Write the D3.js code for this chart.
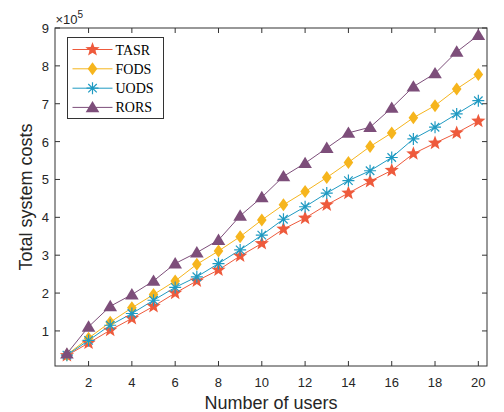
<!DOCTYPE html>
<html>
<head>
<meta charset="utf-8">
<script src="https://cdn.jsdelivr.net/npm/d3@7"></script>
<style>
  body { margin: 0; background: #fff; }
  svg { display: block; }
</style>
</head>
<body>
<div id="chart"></div>
<script>
// dati (unità: 1e5)
const users = [1, 2, 3, 4, 5, 6, 7, 8, 9, 10, 11, 12, 13, 14, 15, 16, 17, 18, 19, 20];
const tasr = [0.35, 0.68, 1.02, 1.33, 1.65, 2.00, 2.32, 2.61, 2.98, 3.31, 3.69, 3.98, 4.33, 4.64, 4.95, 5.24, 5.68, 5.96, 6.23, 6.54];
const fods = [0.37, 0.81, 1.23, 1.61, 1.96, 2.32, 2.76, 3.11, 3.49, 3.93, 4.33, 4.68, 5.05, 5.45, 5.87, 6.23, 6.63, 6.95, 7.39, 7.77];
const uods = [0.36, 0.75, 1.15, 1.46, 1.81, 2.15, 2.43, 2.78, 3.14, 3.53, 3.95, 4.28, 4.64, 4.97, 5.23, 5.58, 6.07, 6.38, 6.73, 7.08];
const rors = [0.40, 1.11, 1.65, 1.96, 2.32, 2.78, 3.07, 3.40, 4.04, 4.53, 5.08, 5.43, 5.83, 6.23, 6.38, 6.89, 7.45, 7.80, 8.37, 8.81];
const seriesNames = ["TASR", "FODS", "UODS", "RORS"];
const xTicks = [2, 4, 6, 8, 10, 12, 14, 16, 18, 20];
const yTicks = [1, 2, 3, 4, 5, 6, 7, 8, 9];

const colors = { TASR: "#ee5a3c", FODS: "#f6b51d", UODS: "#1f9ac2", RORS: "#7d4e7a" };
const seriesValues = { TASR: tasr, FODS: fods, UODS: uods, RORS: rors };

const width = 504, height = 412;
const margin = { top: 28, right: 17, bottom: 46, left: 55 };

const svg = d3.select("#chart").append("svg")
  .attr("width", width)
  .attr("height", height);

const x = d3.scaleLinear().domain([0.45, 20.4]).range([margin.left, width - margin.right]);
const y = d3.scaleLinear().domain([0.074, 9]).range([height - margin.bottom, margin.top]);

const axisColor = "#333";
const tickFont = "Liberation Sans, Arial, sans-serif";

// Simboli dei marker
function starPath(r) {
  const pts = [];
  for (let i = 0; i < 10; i++) {
    const a = -Math.PI / 2 + i * Math.PI / 5;
    const rr = i % 2 === 0 ? r : r * 0.42;
    pts.push([Math.cos(a) * rr, Math.sin(a) * rr]);
  }
  return "M" + pts.map(p => p.join(",")).join("L") + "Z";
}
function diamondPath(w, h) {
  return `M0,${-h}L${w},0L0,${h}L${-w},0Z`;
}
function trianglePath(r) {
  return `M0,${-r}L${r * 1.05},${r * 0.75}L${-r * 1.05},${r * 0.75}Z`;
}
function asteriskPath(r) {
  const d = r * Math.SQRT1_2;
  return `M${-r},0L${r},0M0,${-r}L0,${r}M${-d},${-d}L${d},${d}M${-d},${d}L${d},${-d}`;
}

function drawMarker(g, name, cx, cy, scale) {
  const s = scale || 1;
  const c = colors[name];
  const m = g.append("g").attr("transform", `translate(${cx},${cy})`);
  if (name === "TASR") m.append("path").attr("d", starPath(7.5 * s)).attr("fill", c);
  if (name === "FODS") m.append("path").attr("d", diamondPath(4.8 * s, 6.5 * s)).attr("fill", c);
  if (name === "UODS") m.append("path").attr("d", asteriskPath(6 * s)).attr("fill", "none").attr("stroke", c).attr("stroke-width", 1.2);
  if (name === "RORS") m.append("path").attr("d", trianglePath(6.5 * s)).attr("fill", c);
}

// Tacche e riquadro
const plot = svg.append("g");
const x0 = x.range()[0], x1 = x.range()[1], y0 = y.range()[0], y1 = y.range()[1];

xTicks.forEach(t => {
  plot.append("line").attr("x1", x(t)).attr("x2", x(t)).attr("y1", y0).attr("y2", y0 - 5).attr("stroke", axisColor);
  plot.append("line").attr("x1", x(t)).attr("x2", x(t)).attr("y1", y1).attr("y2", y1 + 5).attr("stroke", axisColor);
  svg.append("text").attr("x", x(t)).attr("y", y0 + 21)
    .attr("text-anchor", "middle")
    .style("font-family", tickFont).style("font-size", "13px").attr("fill", "#262626")
    .text(t);
});
yTicks.forEach(t => {
  plot.append("line").attr("x1", x0).attr("x2", x0 + 5).attr("y1", y(t)).attr("y2", y(t)).attr("stroke", axisColor);
  plot.append("line").attr("x1", x1).attr("x2", x1 - 5).attr("y1", y(t)).attr("y2", y(t)).attr("stroke", axisColor);
  svg.append("text").attr("x", x0 - 6).attr("y", y(t) + 5)
    .attr("text-anchor", "end")
    .style("font-family", tickFont).style("font-size", "13px").attr("fill", "#262626")
    .text(t);
});
plot.append("rect").attr("x", x0).attr("y", y1).attr("width", x1 - x0).attr("height", y0 - y1)
  .attr("fill", "none").attr("stroke", axisColor).attr("stroke-width", 1);

// Serie
const line = d3.line().x((d, i) => x(users[i])).y(d => y(d));
seriesNames.forEach(name => {
  svg.append("path").datum(seriesValues[name])
    .attr("d", line)
    .attr("fill", "none")
    .attr("stroke", colors[name])
    .attr("stroke-width", 1);
});
seriesNames.forEach(name => {
  const g = svg.append("g");
  seriesValues[name].forEach((v, i) => drawMarker(g, name, x(users[i]), y(v)));
});

// Moltiplicatore ×10^5
const mult = svg.append("text").attr("x", x0 + 0.5).attr("y", 24)
  .style("font-family", tickFont).style("font-size", "13px").attr("fill", "#262626");
mult.append("tspan").text("\u00d710");
mult.append("tspan").attr("dy", -6).style("font-size", "10px").text("5");

// Etichette assi
svg.append("text").attr("x", (x0 + x1) / 2).attr("y", 409)
  .attr("text-anchor", "middle")
  .style("font-family", tickFont).style("font-size", "18px").attr("fill", "#262626")
  .text("Number of users");
svg.append("text")
  .attr("transform", `translate(32,${(y0 + y1) / 2}) rotate(-90)`)
  .attr("text-anchor", "middle")
  .style("font-family", tickFont).style("font-size", "18px").attr("fill", "#262626")
  .text("Total system costs");

// Legenda
const legend = svg.append("g");
legend.append("rect").attr("x", 67.5).attr("y", 37.5).attr("width", 96).attr("height", 81)
  .attr("fill", "#fff").attr("stroke", axisColor).attr("stroke-width", 1);
const rowY = [49.5, 68.8, 88.2, 107.4];
seriesNames.forEach((name, i) => {
  legend.append("line").attr("x1", 72.5).attr("x2", 112.5).attr("y1", rowY[i]).attr("y2", rowY[i])
    .attr("stroke", colors[name]).attr("stroke-width", 1);
  drawMarker(legend, name, 92.5, rowY[i]);
  legend.append("text").attr("x", 115.5).attr("y", rowY[i] + 5)
    .style("font-family", "Liberation Serif, Times New Roman, serif").style("font-size", "14px").attr("fill", "#000")
    .text(name);
});
</script>
</body>
</html>
